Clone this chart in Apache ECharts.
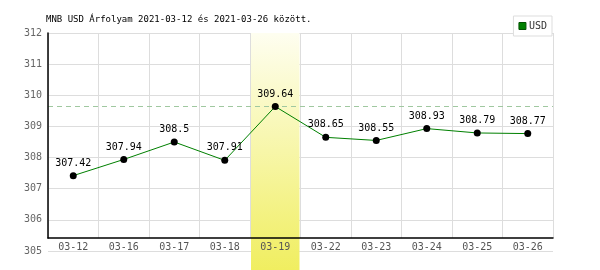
<!DOCTYPE html>
<html>
<head>
<meta charset="utf-8">
<script src="https://cdn.jsdelivr.net/npm/echarts@6/dist/echarts.min.js"></script>
<style>
html,body{margin:0;padding:0;background:#fff;}
#c{width:600px;height:270px;}
</style>
</head>
<body>
<div id="c"></div>
<script>
var titleText = 'MNB USD Árfolyam 2021-03-12 és 2021-03-26 között.';
var seriesName = 'USD';
var categories = ['03-12','03-16','03-17','03-18','03-19','03-22','03-23','03-24','03-25','03-26'];
var usdValues = [307.42, 307.94, 308.5, 307.91, 309.64, 308.65, 308.55, 308.93, 308.79, 308.77];
var highlightCategory = '03-19';
var yMin = 305, yMax = 312, yStep = 1;

var FONT = 'DejaVu Sans Mono';
var bandData = categories.map(function (c) { return c === highlightCategory ? 1 : null; });

var chart = echarts.init(document.getElementById('c'), null, {renderer: 'canvas'});
chart.setOption({
  animation: false,
  backgroundColor: '#fff',
  title: {
    text: titleText,
    left: 46, top: 15, padding: 0,
    textStyle: {fontFamily: FONT, fontSize: 9, fontWeight: 'normal', color: '#000'}
  },
  legend: {
    right: 48, top: 16,
    padding: [5, 5, 5, 5],
    backgroundColor: '#fff',
    borderColor: '#ddd', borderWidth: 1,
    itemWidth: 7, itemHeight: 7,
    textStyle: {fontFamily: FONT, fontSize: 10, color: '#333', padding: [0, 0, 0, -2]},
    data: [{name: seriesName, icon: 'rect', itemStyle: {color: '#008000', borderColor: '#005000', borderWidth: 1}}],
    z: 10
  },
  grid: [
    {left: 48, right: 47, top: 33, bottom: 19},
    {left: 48, right: 47, top: 33, bottom: 32},
    {left: 48, right: 47, top: 33, bottom: 0}
  ],
  xAxis: [
    {gridIndex: 0, type: 'category', data: categories, show: false},
    {gridIndex: 1, type: 'category', data: categories, z: 5,
     axisLine: {show: true, lineStyle: {color: '#000', width: 1.5}},
     axisTick: {show: false},
     splitLine: {show: true, lineStyle: {color: '#ddd', width: 1}},
     axisLabel: {fontFamily: FONT, fontSize: 10, color: '#555', margin: 4}},
    {gridIndex: 2, type: 'category', data: categories, show: false}
  ],
  yAxis: [
    {gridIndex: 0, type: 'value', min: yMin, max: yMax, interval: yStep,
     axisLine: {show: false}, axisTick: {show: false},
     splitLine: {show: true, lineStyle: {color: '#ddd', width: 1}},
     axisLabel: {fontFamily: FONT, fontSize: 10, color: '#666', margin: 6}},
    {gridIndex: 1, type: 'value', min: 0, max: 1, z: 5,
     axisLine: {show: true, lineStyle: {color: '#000', width: 1.5}},
     axisTick: {show: false}, axisLabel: {show: false}, splitLine: {show: false}},
    {gridIndex: 2, type: 'value', min: 0, max: 1, show: false}
  ],
  series: [
    {
      type: 'bar', xAxisIndex: 2, yAxisIndex: 2, data: bandData,
      barWidth: '96%', silent: true, z: 1,
      itemStyle: {
        color: new echarts.graphic.LinearGradient(0, 0, 0, 1, [
          {offset: 0, color: '#fefef0'},
          {offset: 1, color: '#f0ee60'}
        ])
      }
    },
    {
      name: seriesName, type: 'line', xAxisIndex: 0, yAxisIndex: 0, data: usdValues,
      z: 6,
      symbol: 'circle', symbolSize: 7,
      lineStyle: {color: '#008000', width: 1},
      itemStyle: {color: '#000'},
      label: {show: true, position: 'top', distance: 4, fontFamily: FONT, fontSize: 10, color: '#000'},
      markLine: {
        silent: true, symbol: 'none',
        label: {show: false},
        lineStyle: {color: '#a0c8a0', type: [5, 4], width: 1},
        data: [{type: 'max'}]
      }
    }
  ]
});
</script>
</body>
</html>
